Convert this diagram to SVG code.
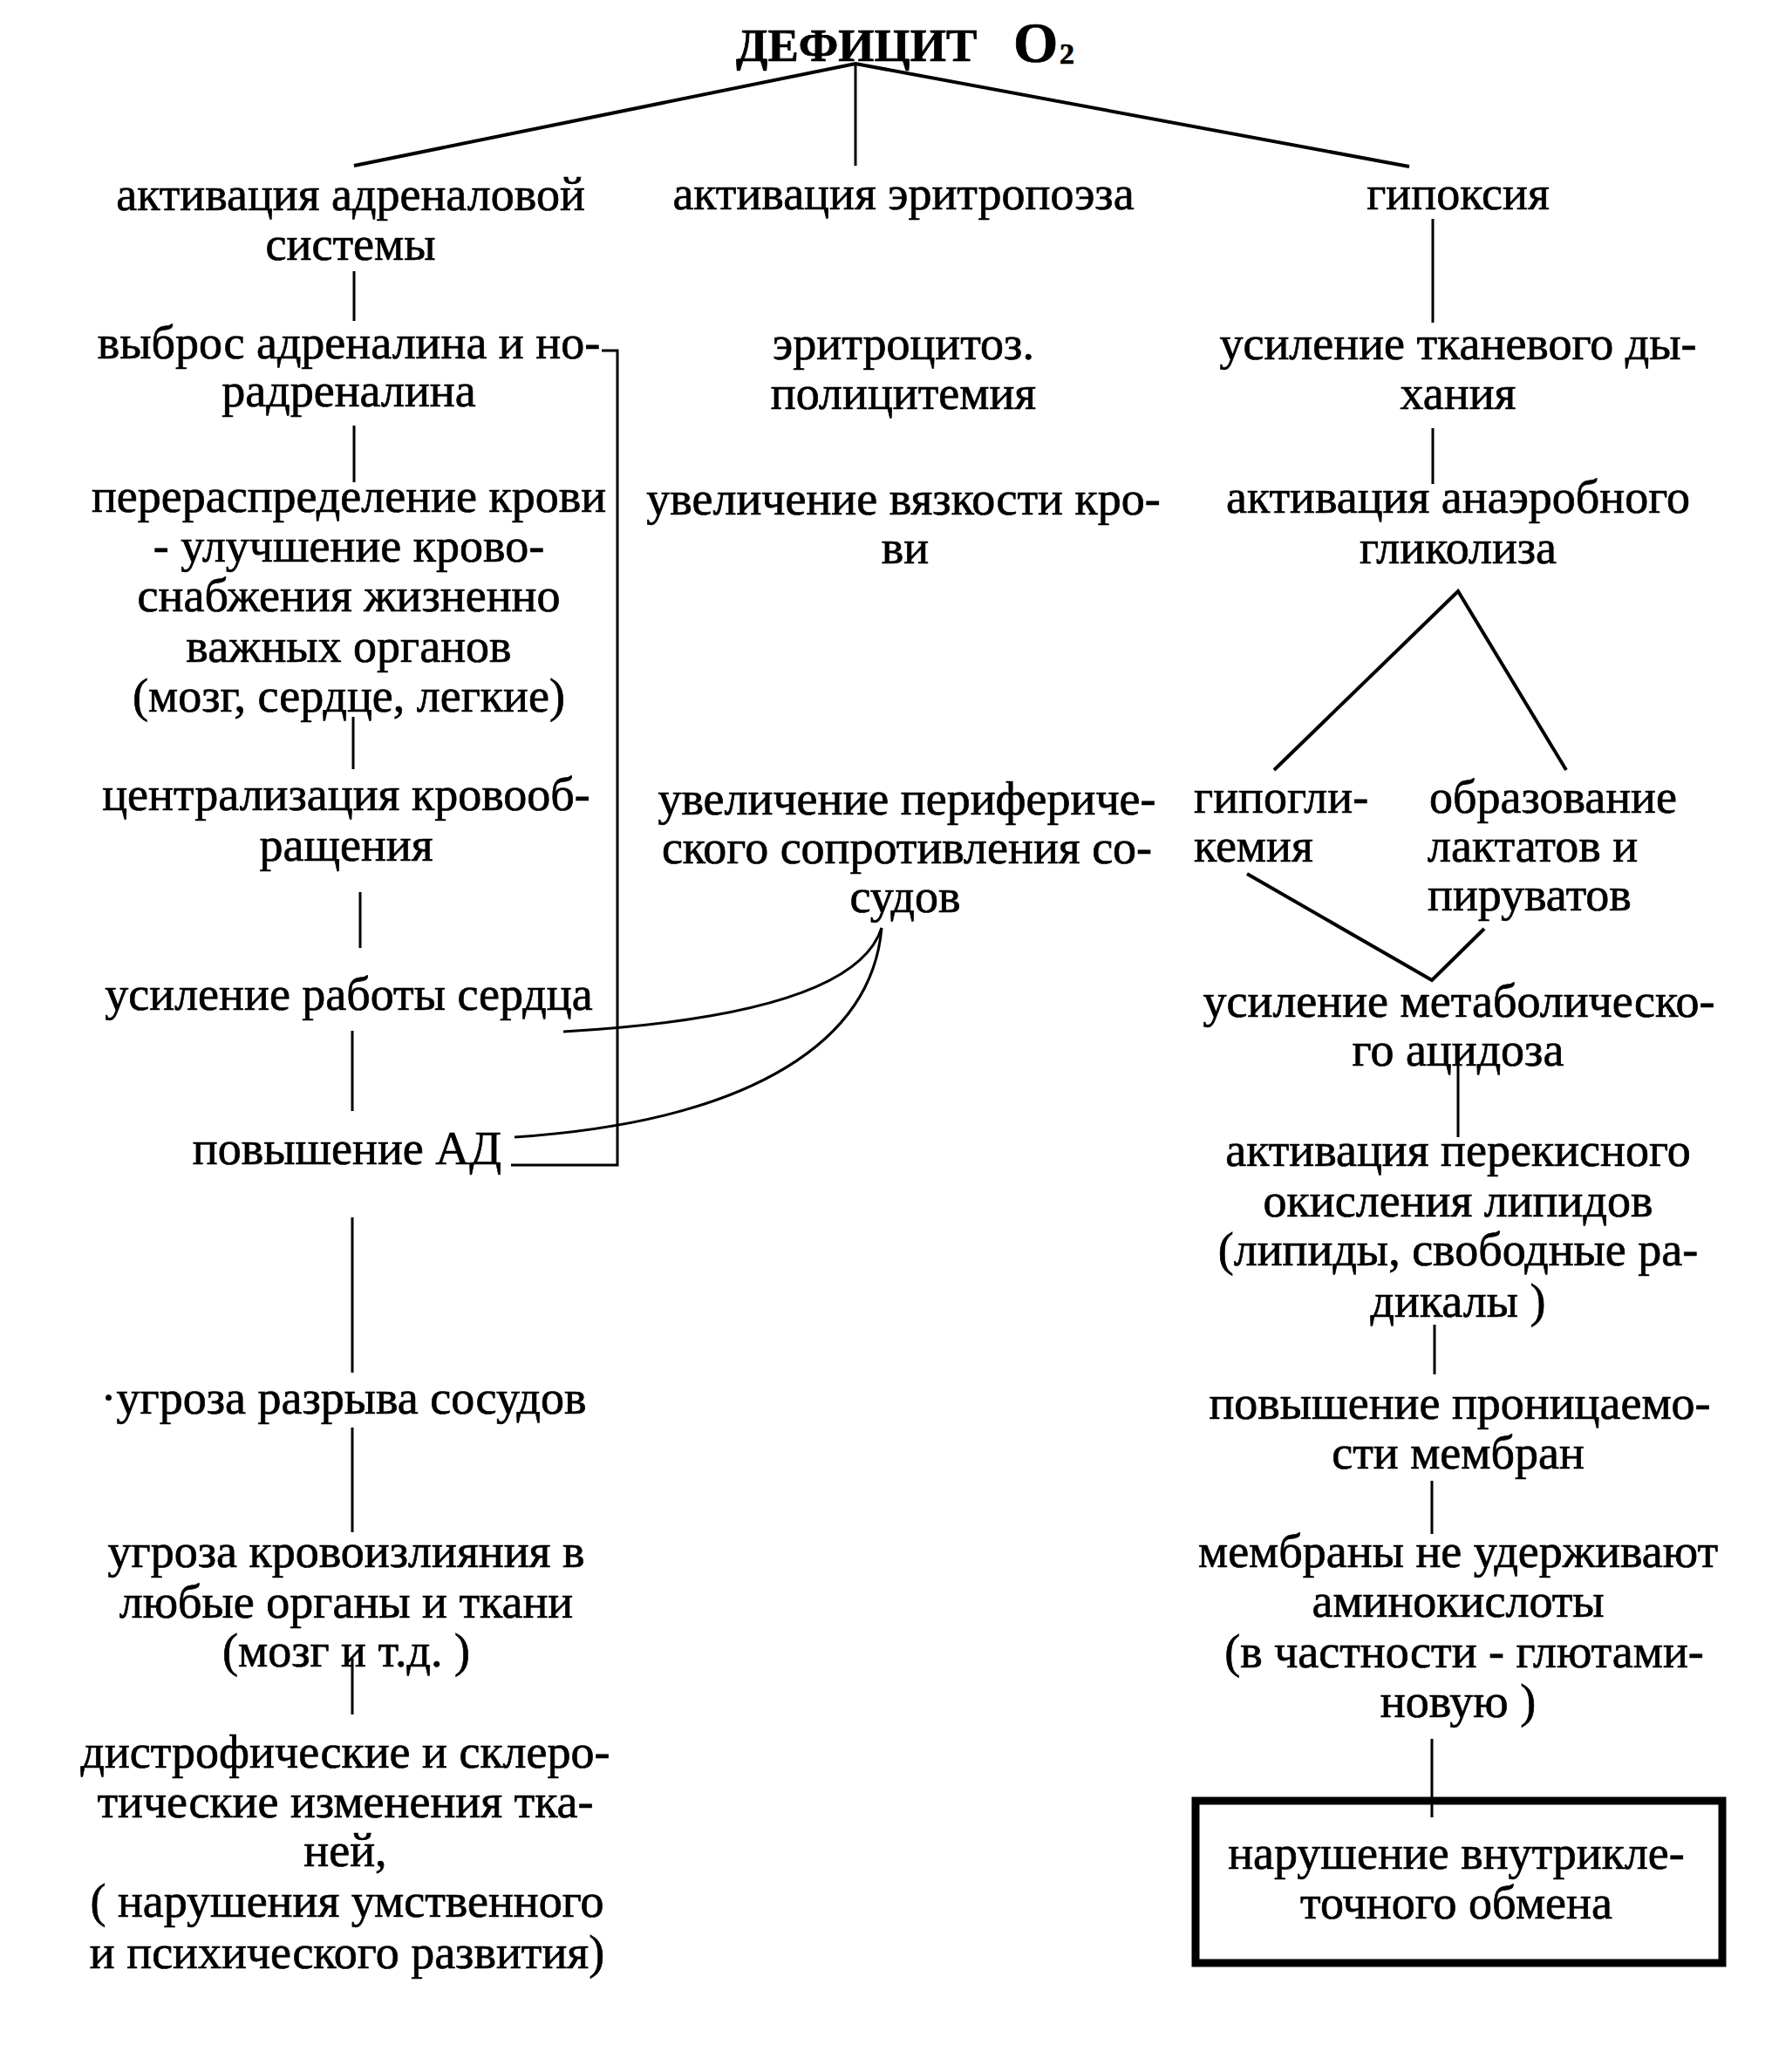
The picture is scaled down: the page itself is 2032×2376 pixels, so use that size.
<svg xmlns="http://www.w3.org/2000/svg" width="2032" height="2376" viewBox="0 0 2032 2376">
<style>
text{font-family:"Liberation Serif","Times New Roman",serif;font-size:54px;fill:#000;stroke:#000;stroke-width:0.7}
.c{text-anchor:middle}
.s{text-anchor:start}
.t{font-weight:bold;font-size:53px}
.ln{stroke:#000;stroke-width:3;fill:none}
.th{stroke:#000;stroke-width:4;fill:none}
.box{stroke:#000;stroke-width:9;fill:none}
</style>
<rect width="2032" height="2376" fill="#fff"/>
<g id="connectors">
<path class="th" d="M406,190 L981,73 L1616,191"/>
<path class="ln" d="M981,73 V190"/>
<path class="ln" d="M406,311 V368 M406,488 V553 M405,822 V882 M413,1023 V1087 M404,1182 V1274 M404,1396 V1574 M404,1637 V1757 M404,1902 V1966"/>
<path class="ln" d="M690,402 H708 V1336 H586"/>
<path class="ln" d="M1011,1064 C990,1130 870,1170 646,1183"/>
<path class="ln" d="M1011,1064 C1000,1190 870,1285 590,1304"/>
<path class="ln" d="M1643,251 V370 M1643,491 V555"/>
<path class="th" d="M1461,883 L1672,678 L1796,883"/>
<path class="th" d="M1430,1002 L1642,1124 L1702,1065"/>
<path class="ln" d="M1672,1213 V1304 M1645,1519 V1576 M1642,1698 V1759 M1642,1994 V2084"/>
</g>
<g id="title">
<text class="t s" x="844" y="70">ДЕФИЦИТ</text>
<text class="s" x="1162" y="71" style="font-weight:bold;font-size:66px">O</text>
<text class="s" x="1215" y="73" style="font-weight:bold;font-size:34px">2</text>
</g>
<g id="n-adrenal"><text class="c" x="402" y="241">активация адреналовой</text><text class="c" x="402" y="298">системы</text></g>
<g id="n-vybros"><text class="c" x="400" y="411">выброс адреналина и но-</text><text class="c" x="400" y="466">радреналина</text></g>
<g id="n-pereraspred">
<text class="c" x="400" y="587">перераспределение крови</text>
<text class="c" x="400" y="644">- улучшение крово-</text>
<text class="c" x="400" y="701">снабжения жизненно</text>
<text class="c" x="400" y="759">важных органов</text>
<text class="c" x="400" y="816">(мозг, сердце, легкие)</text>
</g>
<g id="n-central"><text class="c" x="397" y="929">централизация кровооб-</text><text class="c" x="397" y="987">ращения</text></g>
<g id="n-serdce"><text class="c" x="400" y="1158">усиление работы сердца</text></g>
<g id="n-ad"><text class="c" x="398" y="1335">повышение АД</text></g>
<g id="n-razryv"><text class="c" x="394" y="1621">·угроза разрыва сосудов</text></g>
<g id="n-krovoizl">
<text class="c" x="397" y="1797">угроза кровоизлияния в</text>
<text class="c" x="397" y="1855">любые органы и ткани</text>
<text class="c" x="397" y="1911">(мозг и т.д. )</text>
</g>
<g id="n-distrof">
<text class="c" x="396" y="2027">дистрофические и склеро-</text>
<text class="c" x="396" y="2084">тические изменения тка-</text>
<text class="c" x="396" y="2140">ней,</text>
<text class="c" x="398" y="2198">( нарушения умственного</text>
<text class="c" x="398" y="2257">и психического развития)</text>
</g>
<g id="n-eritropoez"><text class="c" x="1036" y="240">активация эритропоэза</text></g>
<g id="n-eritrocitoz"><text class="c" x="1036" y="412">эритроцитоз.</text><text class="c" x="1036" y="469">полицитемия</text></g>
<g id="n-vyazkost"><text class="c" x="1036" y="590">увеличение вязкости кро-</text><text class="c" x="1038" y="646">ви</text></g>
<g id="n-periph">
<text class="c" x="1040" y="934">увеличение перифериче-</text>
<text class="c" x="1040" y="990">ского сопротивления со-</text>
<text class="c" x="1038" y="1046">судов</text>
</g>
<g id="n-gipoksiya"><text class="c" x="1672" y="240">гипоксия</text></g>
<g id="n-tkanevoe"><text class="c" x="1672" y="412">усиление тканевого ды-</text><text class="c" x="1672" y="469">хания</text></g>
<g id="n-anaerob"><text class="c" x="1672" y="588">активация анаэробного</text><text class="c" x="1672" y="646">гликолиза</text></g>
<g id="n-gipoglik"><text class="s" x="1369" y="932">гипогли-</text><text class="s" x="1369" y="988">кемия</text></g>
<g id="n-laktat">
<text class="s" x="1639" y="932">образование</text>
<text class="s" x="1637" y="988">лактатов  и</text>
<text class="s" x="1637" y="1044">пируватов</text>
</g>
<g id="n-acidoz"><text class="c" x="1673" y="1166">усиление метаболическо-</text><text class="c" x="1672" y="1222">го ацидоза</text></g>
<g id="n-perekis">
<text class="c" x="1672" y="1337">активация перекисного</text>
<text class="c" x="1672" y="1395">окисления липидов</text>
<text class="c" x="1672" y="1451">(липиды, свободные ра-</text>
<text class="c" x="1672" y="1510">дикалы )</text>
</g>
<g id="n-pronic"><text class="c" x="1674" y="1627">повышение проницаемо-</text><text class="c" x="1672" y="1684">сти мембран</text></g>
<g id="n-membrany">
<text class="c" x="1672" y="1797">мембраны не удерживают</text>
<text class="c" x="1672" y="1854">аминокислоты</text>
<text class="c" x="1679" y="1912">(в частности - глютами-</text>
<text class="c" x="1672" y="1969">новую )</text>
</g>
<g id="n-narushenie">
<rect class="box" x="1371" y="2065" width="604" height="186"/>
<text class="c" x="1670" y="2143">нарушение внутрикле-</text>
<text class="c" x="1670" y="2200">точного обмена</text>
</g>
</svg>
